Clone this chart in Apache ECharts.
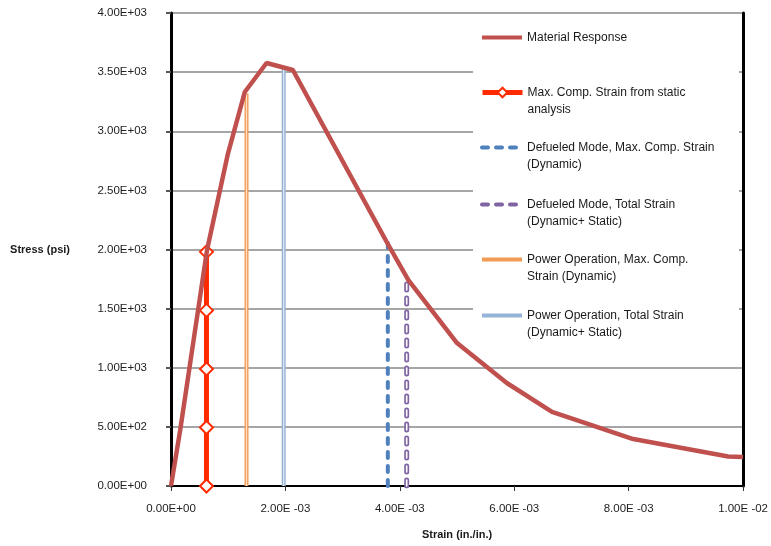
<!DOCTYPE html>
<html>
<head>
<meta charset="utf-8">
<script src="https://cdn.jsdelivr.net/npm/echarts@6/dist/echarts.min.js"></script>
<style>html,body{margin:0;padding:0;background:#fff;}#c{width:771px;height:546px;}</style>
</head>
<body>
<div id="c"></div>
<script>
// ---- data ----
const materialStrain = [0, 0.00016, 0.00063, 0.00099, 0.00129, 0.00167, 0.00213, 0.00378, 0.00415, 0.0050, 0.00587, 0.00666, 0.00808, 0.00974, 0.0100];
const materialStress = [0, 470, 1996, 2800, 3332, 3577, 3518, 2055, 1742, 1209, 871, 626, 397, 250, 245];

const staticStrain = 0.00062;
const staticStress = [0, 495, 990, 1485, 1980];

const defueledMaxStrain = 0.00379;
const defueledMaxStress = [0, 2055];

const defueledTotalStrain = 0.00412;
const defueledTotalStress = [0, 1742];

const powerMaxStrain = 0.00132;
const powerMaxStress = [0, 3320];

const powerTotalStrain = 0.00197;
const powerTotalStress = [0, 3526];

const seriesNames = [
  'Material Response',
  'Max. Comp. Strain from static\nanalysis',
  'Defueled Mode, Max. Comp. Strain\n(Dynamic)',
  'Defueled Mode, Total Strain\n(Dynamic+ Static)',
  'Power Operation, Max. Comp.\nStrain (Dynamic)',
  'Power Operation, Total Strain\n(Dynamic+ Static)'
];

// ---- helpers ----
function pairs(xs, ys) { return xs.map((x, i) => [x, ys[i]]); }
function vline(x, ys) { return ys.map(y => [x, y]); }
function sci(v) {
  if (v === 0) return '0.00E+00';
  let e = Math.floor(Math.log10(Math.abs(v)) + 1e-9);
  let m = v / Math.pow(10, e);
  if (Math.abs(m) >= 9.995) { m /= 10; e += 1; }
  const sign = e < 0 ? ' -' : '+';
  const ee = String(Math.abs(e)).padStart(2, '0');
  return m.toFixed(2) + 'E' + sign + ee;
}

const FONT = 'Liberation Sans';
const chart = echarts.init(document.getElementById('c'), null, {renderer: 'canvas'});

const legendTops = [29, 67, 122, 179, 234, 290];
const legendLineW = [4, 5, 4, 4, 4, 4];
const hideSym = {color: 'rgba(0,0,0,0)', borderColor: 'rgba(0,0,0,0)', borderWidth: 0, opacity: 0};
const legends = seriesNames.map((n, i) => ({
  data: [i === 1
    ? {name: n, lineStyle: {width: legendLineW[i]}}
    : {name: n, itemStyle: hideSym, lineStyle: {width: legendLineW[i]}}],
  orient: 'vertical',
  left: 480,
  top: legendTops[i],
  padding: 0,
  itemWidth: 40,
  itemHeight: 12,
  selectedMode: false,
  formatter: name => (i === 0 ? name : '\n' + name),
  textStyle: {fontFamily: FONT, fontSize: 12, color: '#1a1a1a', lineHeight: 17}
}));

chart.setOption({
  animation: false,
  backgroundColor: '#fff',
  grid: {left: 171, right: 26, top: 13, bottom: 60, containLabel: false},
  graphic: [{
    type: 'rect', left: 473, top: 18, z: 1,
    shape: {width: 266, height: 334},
    style: {fill: '#fff'}
  }],
  legend: legends,
  xAxis: {
    type: 'value', min: 0, max: 0.01, interval: 0.002,
    name: 'Strain (in./in.)', nameLocation: 'middle', nameGap: 43,
    nameTextStyle: {fontFamily: FONT, fontSize: 11, fontWeight: 'bold', color: '#1a1a1a'},
    axisLine: {show: true, onZero: false, lineStyle: {color: '#000', width: 2}},
    axisTick: {show: true, length: 5, lineStyle: {color: '#333'}},
    axisLabel: {formatter: sci, margin: 17, fontFamily: FONT, fontSize: 11.5, color: '#222'},
    splitLine: {show: false}
  },
  yAxis: [{
    type: 'value', min: 0, max: 4000, interval: 500,
    name: 'Stress (psi)', nameLocation: 'middle', nameRotate: 0, nameGap: 101,
    nameTextStyle: {fontFamily: FONT, fontSize: 11, fontWeight: 'bold', color: '#1a1a1a'},
    axisLine: {show: true, onZero: false, lineStyle: {color: '#000', width: 3}},
    axisTick: {show: true, length: 5, lineStyle: {color: '#555', width: 2}},
    axisLabel: {formatter: sci, margin: 24, fontFamily: FONT, fontSize: 11.5, color: '#222'},
    splitLine: {show: true, lineStyle: {color: '#a6a6a6', width: 2}}
  }, {
    type: 'value', min: 0, max: 4000, interval: 500, position: 'right',
    axisLine: {show: true, onZero: false, lineStyle: {color: '#000', width: 3}},
    axisTick: {show: false}, axisLabel: {show: false}, splitLine: {show: false}
  }],
  series: [
    {
      name: seriesNames[0], type: 'line', data: pairs(materialStrain, materialStress),
      symbol: 'none', z: 5,
      lineStyle: {color: '#C0504D', width: 4.5}, itemStyle: {color: '#C0504D'}
    },
    {
      name: seriesNames[1], type: 'line', data: vline(staticStrain, staticStress),
      symbol: 'emptyDiamond', symbolSize: 13, z: 4,
      lineStyle: {color: '#FF2A00', width: 5},
      itemStyle: {color: '#FF2A00', borderColor: '#FF2A00', borderWidth: 2}
    },
    {
      name: seriesNames[2], type: 'line', data: vline(defueledMaxStrain, defueledMaxStress),
      symbol: 'none', z: 4,
      lineStyle: {color: '#4F81BD', width: 4, type: [6, 8], cap: 'round'},
      itemStyle: {color: '#4F81BD'}
    },
    {
      name: seriesNames[3], type: 'line', data: vline(defueledTotalStrain, defueledTotalStress),
      symbol: 'none', z: 4,
      lineStyle: {color: '#8064A2', width: 5, type: [6, 8], cap: 'round'},
      itemStyle: {color: '#8064A2'}
    },
    {
      name: seriesNames[4], type: 'line', data: vline(powerMaxStrain, powerMaxStress),
      symbol: 'none', z: 4,
      lineStyle: {color: '#F29B55', width: 4}, itemStyle: {color: '#F29B55'}
    },
    {
      name: seriesNames[5], type: 'line', data: vline(powerTotalStrain, powerTotalStress),
      symbol: 'none', z: 4,
      lineStyle: {color: '#95B3D7', width: 4}, itemStyle: {color: '#95B3D7'}
    },
    // inner highlights (double-line look)
    {
      name: 'hl1', type: 'line', data: vline(defueledTotalStrain, defueledTotalStress),
      symbol: 'none', z: 4, silent: true,
      lineStyle: {color: '#ffffff', width: 1.6, type: [6, 8], cap: 'round'}
    },
    {
      name: 'hl2', type: 'line', data: vline(powerMaxStrain, powerMaxStress),
      symbol: 'none', z: 4, silent: true,
      lineStyle: {color: '#FCE0C8', width: 1.2}
    },
    {
      name: 'hl3', type: 'line', data: vline(powerTotalStrain, powerTotalStress),
      symbol: 'none', z: 4, silent: true,
      lineStyle: {color: '#E2EAF4', width: 1.2}
    }
  ]
});
</script>
</body>
</html>
